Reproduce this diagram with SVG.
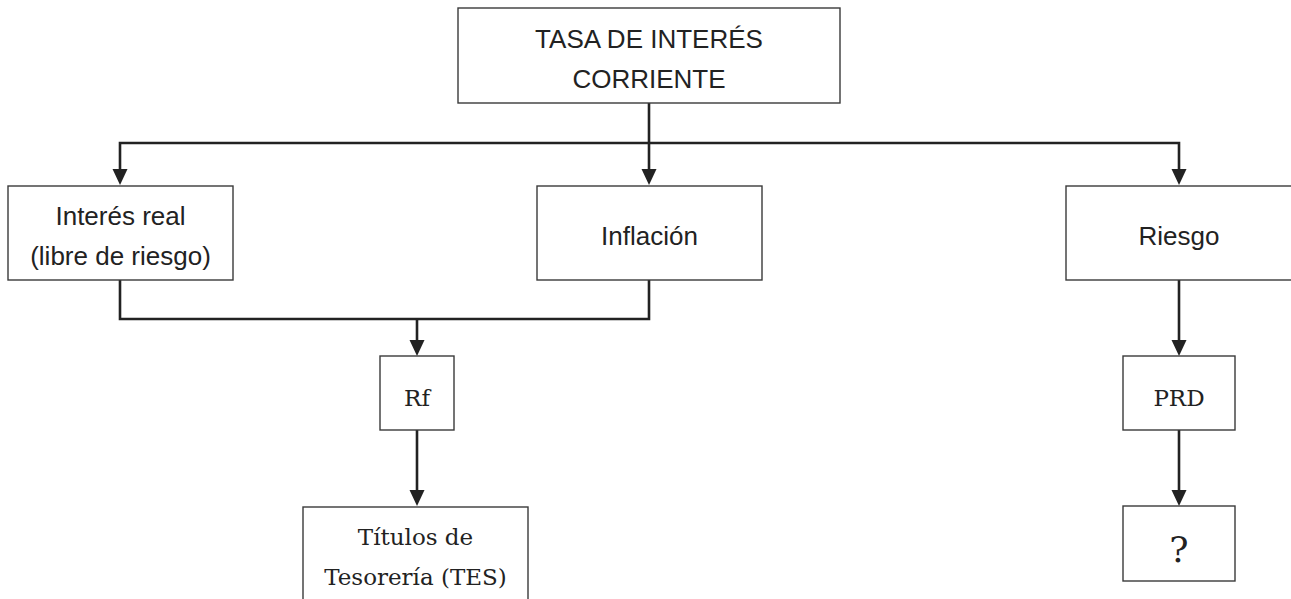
<svg xmlns="http://www.w3.org/2000/svg" width="1291" height="599" viewBox="0 0 1291 599">
<style>
.box{fill:#fff;stroke:#3a3a3a;stroke-width:1.4}
.t{font-family:"Liberation Sans",Arial,sans-serif;font-size:26px;fill:#222;text-anchor:middle}
.s{font-family:"DejaVu Serif","Liberation Serif",serif;font-size:23px;fill:#222;text-anchor:middle}
.c{fill:none;stroke:#222;stroke-width:2.6}
</style>
<defs>
<path id="arr" d="M-7.5,-16 L7.5,-16 L0,0 Z" fill="#222"/>
</defs>
<rect width="1291" height="599" fill="#fff"/>
<g id="connectors">
<path class="c" d="M649,103 V170"/>
<path class="c" d="M120,170 V143 H1179 V170"/>
<path class="c" d="M120,280 V319 H649 V280"/>
<path class="c" d="M417,319 V342"/>
<path class="c" d="M417,430 V492"/>
<path class="c" d="M1179,280 V342"/>
<path class="c" d="M1179,430 V492"/>
<use href="#arr" x="120" y="185"/>
<use href="#arr" x="649" y="185"/>
<use href="#arr" x="1179" y="185"/>
<use href="#arr" x="417" y="356"/>
<use href="#arr" x="417" y="506"/>
<use href="#arr" x="1179" y="356"/>
<use href="#arr" x="1179" y="506"/>
</g>
<g id="n-tasa">
<rect class="box" x="458" y="8" width="382" height="95"/>
<text class="t" x="649" y="48">TASA DE INTERÉS</text>
<text class="t" x="649" y="88">CORRIENTE</text>
</g>
<g id="n-interes">
<rect class="box" x="8" y="186" width="225" height="94"/>
<text class="t" x="120.5" y="225">Interés real</text>
<text class="t" x="120.5" y="265">(libre de riesgo)</text>
</g>
<g id="n-inflacion">
<rect class="box" x="537" y="186" width="225" height="94"/>
<text class="t" x="649.5" y="245">Inflación</text>
</g>
<g id="n-riesgo">
<rect class="box" x="1066" y="186" width="226" height="94"/>
<text class="t" x="1179" y="245">Riesgo</text>
</g>
<g id="n-rf">
<rect class="box" x="380" y="356" width="74" height="74"/>
<text class="s" x="417" y="406">Rf</text>
</g>
<g id="n-tes">
<rect class="box" x="303" y="507" width="225" height="110"/>
<text class="s" x="415.5" y="545">Títulos de</text>
<text class="s" x="415.5" y="585">Tesorería (TES)</text>
</g>
<g id="n-prd">
<rect class="box" x="1123" y="356" width="112" height="74"/>
<text class="s" x="1179" y="406">PRD</text>
</g>
<g id="n-q">
<rect class="box" x="1123" y="506" width="112" height="75"/>
<text class="s" x="1179" y="562" style="font-size:36px">?</text>
</g>
</svg>
